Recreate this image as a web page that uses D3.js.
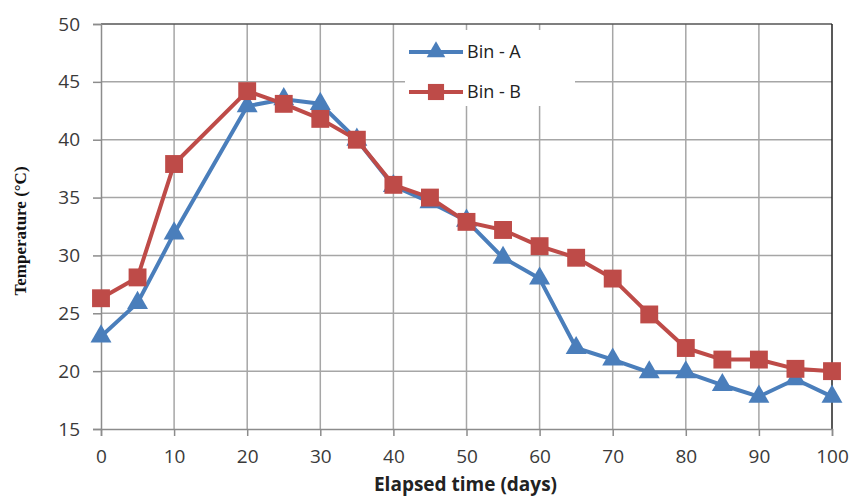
<!DOCTYPE html>
<html>
<head>
<meta charset="utf-8">
<script src="https://cdn.jsdelivr.net/npm/d3@7"></script>
<style>
  body { margin: 0; background: #fff; }
  svg text { font-family: "Open Sans", Lato, sans-serif; }
</style>
</head>
<body>
<div id="chart"></div>
<script>
// days elapsed
const daysA = [0, 5, 10, 20, 25, 30, 35, 40, 45, 50, 55, 60, 65, 70, 75, 80, 85, 90, 95, 100];
const tempA = [23, 25.9, 31.9, 42.9, 43.5, 43.1, 40, 36, 34.6, 33, 29.8, 28, 22, 21, 19.9, 19.9, 18.8, 17.8, 19.3, 17.8];
const daysB = [0, 5, 10, 20, 25, 30, 35, 40, 45, 50, 55, 60, 65, 70, 75, 80, 85, 90, 95, 100];
const tempB = [26.3, 28.1, 37.9, 44.2, 43.1, 41.8, 40, 36.1, 35, 32.9, 32.2, 30.8, 29.8, 28, 24.9, 22, 21, 21, 20.2, 20];
const xTicks = [0, 10, 20, 30, 40, 50, 60, 70, 80, 90, 100];
const yTicks = [15, 20, 25, 30, 35, 40, 45, 50];
const seriesNames = ["Bin - A", "Bin - B"];

const W = 853, H = 499;
const margin = { top: 24, right: 21, bottom: 70, left: 101 };
const width = W - margin.left - margin.right;
const height = H - margin.top - margin.bottom;

const svg = d3.select("#chart").append("svg")
    .attr("width", W)
    .attr("height", H);

const g = svg.append("g")
    .attr("transform", `translate(${margin.left},${margin.top})`);

const x = d3.scaleLinear().domain([0, 100]).range([0, width]);
const y = d3.scaleLinear().domain([15, 50]).range([height, 0]);

// grid
g.append("g")
    .selectAll("line.v")
    .data(xTicks.slice(1, -1))
    .enter().append("line")
    .attr("x1", d => x(d)).attr("x2", d => x(d))
    .attr("y1", 0).attr("y2", height)
    .attr("stroke", "#a6a6a6").attr("stroke-width", 1.5);

g.append("g")
    .selectAll("line.h")
    .data(yTicks.slice(1, -1))
    .enter().append("line")
    .attr("x1", 0).attr("x2", width)
    .attr("y1", d => y(d)).attr("y2", d => y(d))
    .attr("stroke", "#a6a6a6").attr("stroke-width", 1.5);

// frame top / right
g.append("line").attr("x1", 0).attr("x2", width).attr("y1", 0).attr("y2", 0)
    .attr("stroke", "#555").attr("stroke-width", 1.5);
g.append("line").attr("x1", width).attr("x2", width).attr("y1", 0).attr("y2", height)
    .attr("stroke", "#222").attr("stroke-width", 1.5);

// axes
const xAxis = g.append("g")
    .attr("transform", `translate(0,${height})`)
    .call(d3.axisBottom(x).tickValues(xTicks).tickSize(7).tickPadding(14));
const yAxis = g.append("g")
    .call(d3.axisLeft(y).tickValues(yTicks).tickSize(8).tickPadding(13));

[xAxis, yAxis].forEach(a => {
    a.select(".domain").attr("stroke", "#8c8c8c").attr("stroke-width", 1.5);
    a.selectAll(".tick line").attr("stroke", "#8c8c8c").attr("stroke-width", 1.5);
    a.selectAll(".tick text")
        .attr("fill", "#3a3a3a")
        .style("font-size", "19px")
        .style("font-family", "'Open Sans', sans-serif");
});

// axis titles
svg.append("text")
    .attr("x", margin.left + width / 2 - 1)
    .attr("y", 491)
    .attr("text-anchor", "middle")
    .style("font-size", "19px")
    .style("font-weight", "bold")
    .attr("fill", "#222")
    .text("Elapsed time (days)");

svg.append("text")
    .attr("transform", "rotate(-90)")
    .attr("x", -231)
    .attr("y", 26)
    .attr("text-anchor", "middle")
    .style("font-family", "'Liberation Serif', 'Times New Roman', serif")
    .style("font-size", "17px")
    .style("font-weight", "bold")
    .attr("fill", "#111")
    .text("Temperature (°C)");

// series
const dataA = daysA.map((d, i) => ({ x: d, y: tempA[i] }));
const dataB = daysB.map((d, i) => ({ x: d, y: tempB[i] }));
const colors = ["#4a7ebb", "#be4b48"];

const line = d3.line().x(d => x(d.x)).y(d => y(d.y));

const triangle = d3.symbol().type(d3.symbolTriangle).size(190);
const square = d3.symbol().type(d3.symbolSquare).size(320);

g.append("path").datum(dataA)
    .attr("d", line).attr("fill", "none")
    .attr("stroke", colors[0]).attr("stroke-width", 4).attr("stroke-linejoin", "round");
g.selectAll("path.ma").data(dataA).enter().append("path")
    .attr("class", "ma")
    .attr("d", triangle)
    .attr("transform", d => `translate(${x(d.x)},${y(d.y)})`)
    .attr("fill", colors[0]);

g.append("path").datum(dataB)
    .attr("d", line).attr("fill", "none")
    .attr("stroke", colors[1]).attr("stroke-width", 4).attr("stroke-linejoin", "round");
g.selectAll("path.mb").data(dataB).enter().append("path")
    .attr("class", "mb")
    .attr("d", square)
    .attr("transform", d => `translate(${x(d.x)},${y(d.y)})`)
    .attr("fill", colors[1]);

// legend
const legend = svg.append("g").attr("transform", "translate(405,30)");
legend.append("rect")
    .attr("width", 170).attr("height", 76)
    .attr("fill", "#fff");
seriesNames.forEach((name, i) => {
    const row = legend.append("g").attr("transform", `translate(0,${22 + i * 40})`);
    row.append("line")
        .attr("x1", 4).attr("x2", 58)
        .attr("stroke", colors[i]).attr("stroke-width", 4);
    row.append("path")
        .attr("d", i === 0 ? d3.symbol().type(d3.symbolTriangle).size(150) : d3.symbol().type(d3.symbolSquare).size(260))
        .attr("transform", "translate(31,0)")
        .attr("fill", colors[i]);
    row.append("text")
        .attr("x", 62).attr("dy", "0.35em")
        .style("font-size", "18px")
        .attr("fill", "#222")
        .text(name);
});
</script>
</body>
</html>
